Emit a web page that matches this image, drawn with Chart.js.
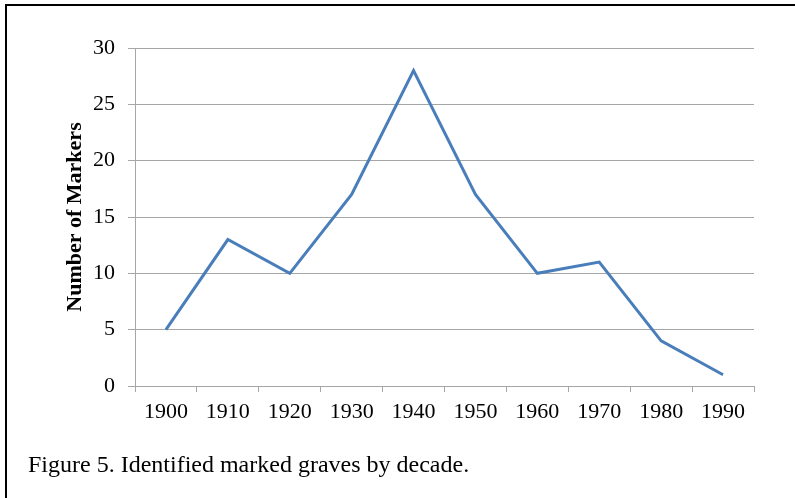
<!DOCTYPE html>
<html>
<head>
<meta charset="utf-8">
<script src="https://cdn.jsdelivr.net/npm/chart.js@4"></script>
<style>
  html, body { margin: 0; padding: 0; background: #fff; }
  #wrap { position: relative; width: 795px; height: 498px; overflow: hidden; }
  #frame { position: absolute; left: 5px; top: 4px; width: 800px; height: 500px;
           border-top: 2px solid #000; border-left: 2px solid #000; box-sizing: border-box; }
  canvas { position: absolute; left: 0; top: 0; }
  #caption { position: absolute; left: 28px; top: 449px; font-family: "Liberation Serif", serif;
             font-size: 24px; color: #000; white-space: nowrap; line-height: 30px; }
</style>
</head>
<body>
<div id="wrap">
  <div id="frame"></div>
  <canvas id="c" width="795" height="498"></canvas>
  <div id="caption">Figure 5. Identified marked graves by decade.</div>
</div>
<script>
const decades = ['1900','1910','1920','1930','1940','1950','1960','1970','1980','1990'];
const markers = [5, 13, 10, 17, 28, 17, 10, 11, 4, 1];
const yTicks = [0, 5, 10, 15, 20, 25, 30];
const yTitle = 'Number of Markers';

const gridGray = '#a6a6a6';
new Chart(document.getElementById('c'), {
  type: 'line',
  data: {
    labels: decades,
    datasets: [{
      data: markers,
      borderColor: '#4a7ebb',
      borderWidth: 3,
      pointRadius: 0,
      pointHoverRadius: 0,
      tension: 0,
      fill: false
    }]
  },
  options: {
    responsive: false,
    animation: false,
    devicePixelRatio: 1,
    layout: { padding: { left: 58, top: 48, right: 41, bottom: 0 } },
    plugins: { legend: { display: false }, tooltip: { enabled: false } },
    scales: {
      x: {
        offset: true,
        grid: { offset: true, drawOnChartArea: false, drawTicks: true, tickLength: 6, color: gridGray, lineWidth: 1 },
        border: { display: true, color: gridGray, width: 1 },
        ticks: { color: '#000', padding: 7, font: { family: 'Liberation Serif', size: 22 }, maxRotation: 0, autoSkip: false },
        afterFit: (s) => { s.height = 112; }
      },
      y: {
        min: 0, max: 30,
        afterBuildTicks: (s) => { s.ticks = yTicks.map(v => ({ value: v })); },
        grid: { color: gridGray, lineWidth: 1, drawTicks: true, tickLength: 7 },
        border: { display: true, color: gridGray, width: 1 },
        ticks: { color: '#000', padding: 13, font: { family: 'Liberation Serif', size: 22 } },
        title: { display: true, text: yTitle, color: '#000', font: { family: 'Liberation Serif', size: 22, weight: 'bold' }, padding: { top: 4, bottom: 4 } },
        afterFit: (s) => { s.width = 135 - 58; }
      }
    }
  }
});
</script>
</body>
</html>
